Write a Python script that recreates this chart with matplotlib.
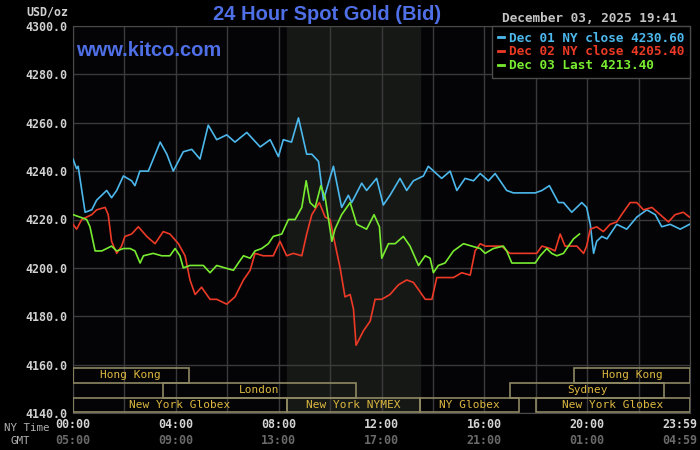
import matplotlib
matplotlib.use("Agg")
import matplotlib.pyplot as plt
import matplotlib.transforms as mtransforms
from matplotlib.patches import Rectangle
from matplotlib.lines import Line2D

# NY-time hours and bid prices
dec01_h = [0, 0.14, 0.2, 0.47, 0.73, 0.92, 1.31, 1.5, 1.7, 1.96, 2.28, 2.41, 2.6, 2.93, 3.39, 3.65, 3.9,
           4.29, 4.62, 4.94, 5.26, 5.59, 5.98, 6.3, 6.76, 7.28, 7.67, 7.99, 8.18, 8.5, 8.77, 9.09, 9.29,
           9.55, 9.74, 10.13, 10.45, 10.71, 10.84, 11.23, 11.42, 11.81, 12.07, 12.33, 12.72, 12.98, 13.24,
           13.63, 13.82, 14.34, 14.67, 14.93, 15.25, 15.58, 15.84, 16.16, 16.42, 16.87, 17.13, 17.98, 18.24,
           18.53, 18.88, 19.08, 19.4, 19.79, 19.98, 20.12, 20.25, 20.37, 20.57, 20.77, 21.15, 21.54, 21.93,
           22.32, 22.65, 22.9, 23.23, 23.62, 23.98]
dec01_v = [4245, 4241, 4242, 4223, 4224, 4228, 4232, 4229, 4232, 4238, 4236, 4234, 4240, 4240, 4252, 4247, 4240,
           4248, 4249, 4245, 4259, 4253, 4255, 4252, 4256, 4250, 4253, 4246, 4253, 4252, 4262, 4247, 4247,
           4244, 4228, 4242, 4225, 4230, 4227, 4235, 4232, 4237, 4226, 4230, 4237, 4232, 4236,
           4238, 4242, 4237, 4240, 4232, 4237, 4236, 4239, 4236, 4239, 4232, 4231, 4231, 4232,
           4234, 4227, 4227, 4223, 4227, 4225, 4218, 4206, 4211, 4213, 4212, 4218, 4216, 4221,
           4224, 4222, 4217, 4218, 4216, 4218]

dec02_h = [0, 0.14, 0.34, 0.53, 0.73, 0.92, 1.25, 1.37, 1.5, 1.7, 1.89, 2.02, 2.28, 2.54, 2.87, 3.19, 3.51,
           3.77, 4.1, 4.36, 4.55, 4.75, 5.0, 5.33, 5.59, 5.98, 6.3, 6.63, 6.89, 7.08, 7.4, 7.79, 8.05, 8.31,
           8.57, 8.9, 9.09, 9.29, 9.58, 9.81, 10.0, 10.19, 10.39, 10.58, 10.78, 10.91, 11.01, 11.3, 11.56,
           11.75, 12.01, 12.33, 12.66, 12.98, 13.24, 13.44, 13.7, 13.96, 14.15, 14.54, 14.8, 15.12, 15.45,
           15.64, 15.84, 16.03, 16.35, 16.68, 16.87, 17.0, 18.04, 18.24, 18.56, 18.75, 18.95, 19.14, 19.6,
           19.86, 19.98, 20.12, 20.37, 20.63, 20.89, 21.15, 21.34, 21.67, 21.93, 22.19, 22.52, 22.84, 23.16,
           23.42, 23.74, 23.98]
dec02_v = [4218, 4216, 4220, 4221, 4222, 4224, 4225, 4222, 4211, 4206, 4209, 4213, 4214, 4217, 4213, 4210, 4215,
           4214, 4210, 4205, 4195, 4189, 4192, 4187, 4187, 4185, 4188, 4195, 4199, 4206, 4205, 4205, 4211, 4205,
           4206, 4205, 4214, 4222, 4227, 4221, 4220, 4210, 4200, 4188, 4189, 4183, 4168, 4174, 4178,
           4187, 4187, 4189, 4193, 4195, 4194, 4191, 4187, 4187, 4196, 4196, 4196, 4198, 4197,
           4207, 4210, 4209, 4209, 4209, 4207, 4206, 4206, 4209, 4208, 4207, 4214, 4209, 4209,
           4206, 4209, 4216, 4217, 4215, 4218, 4219, 4222, 4227, 4227, 4224, 4225, 4222, 4219,
           4222, 4223, 4221]

dec03_h = [0, 0.27, 0.53, 0.66, 0.86, 1.12, 1.31, 1.5, 1.7, 1.96, 2.22, 2.41, 2.61, 2.74, 3.12, 3.45, 3.77,
           3.97, 4.16, 4.29, 4.55, 5.07, 5.33, 5.59, 5.91, 6.24, 6.43, 6.63, 6.89, 7.08, 7.34, 7.6, 7.79,
           8.12, 8.38, 8.64, 8.9, 9.07, 9.22, 9.42, 9.64, 9.81, 10.07, 10.19, 10.45, 10.78, 11.04, 11.42,
           11.71, 11.92, 12.01, 12.27, 12.53, 12.85, 13.11, 13.44, 13.7, 13.89, 14.02, 14.21, 14.47, 14.8,
           15.19, 15.51, 15.84, 16.03, 16.35, 16.74, 16.87, 17.07, 17.98, 18.17, 18.43, 18.62, 18.82, 19.08,
           19.27, 19.47, 19.7]
dec03_v = [4222, 4221, 4220, 4217, 4207, 4207, 4208, 4209, 4207, 4208, 4208, 4207, 4202, 4205, 4206, 4205, 4205,
           4208, 4205, 4200, 4201, 4201, 4198, 4201, 4200, 4199, 4202, 4205, 4204, 4207, 4208, 4210, 4213,
           4214, 4220, 4220, 4225, 4236, 4227, 4225, 4234, 4229, 4211, 4216, 4222, 4227, 4218, 4216,
           4222, 4217, 4204, 4210, 4210, 4213, 4209, 4201, 4205, 4204, 4198, 4201, 4202, 4207,
           4210, 4209, 4208, 4206, 4208, 4209, 4207, 4202, 4202, 4205, 4208, 4206, 4205, 4206,
           4209, 4212, 4214]

legend_labels = ["Dec 01 NY close 4230.60", "Dec 02 NY close 4205.40", "Dec 03 Last 4213.40"]
line_colors = ["#4cb8ec", "#ec3a26", "#78ec30"]

tick_hours = [0, 4, 8, 12, 16, 20, 24]
ny_labels = ["00:00", "04:00", "08:00", "12:00", "16:00", "20:00", "23:59"]
gmt_labels = ["05:00", "09:00", "13:00", "17:00", "21:00", "01:00", "04:59"]

# trading sessions: name, start hour, end hour, row (0 = top)
sess_names = ["Hong Kong", "Hong Kong", "London", "Sydney", "New York Globex", "New York NYMEX",
              "NY Globex", "New York Globex"]
sess_start = [0, 19.5, 3.5, 17.0, 0, 8.33, 13.5, 18.0]
sess_end = [4.5, 24, 11.0, 23.0, 8.33, 13.5, 17.35, 24]
sess_row = [0, 0, 1, 1, 2, 2, 2, 2]

nymex_open, nymex_close = 8.33, 13.5

mono = "DejaVu Sans Mono"
fig = plt.figure(figsize=(7, 4.5), dpi=100, facecolor="black")
ax = fig.add_axes([73 / 700, 37 / 450, 617 / 700, 387 / 450], facecolor="#040406")

ax.axvspan(nymex_open, nymex_close, color="#161816", zorder=0)

for h, v, c in zip([dec01_h, dec02_h, dec03_h], [dec01_v, dec02_v, dec03_v], line_colors):
    ax.plot(h, v, color=c, lw=1.2, zorder=3)

ax.set_xlim(0, 24)
ax.set_ylim(4140, 4300)
ax.set_xticks(range(0, 25, 2))
ax.set_yticks(range(4140, 4301, 20))
ax.grid(True, color="#3a3a3a", lw=1)
ax.tick_params(length=0, labelbottom=False)
ax.set_yticklabels(["%.1f" % t for t in range(4140, 4301, 20)],
                   fontfamily=mono, fontweight="bold", fontsize=8.4, color="#d0d0d0")
ax.tick_params(axis="y", pad=4)
for s in ax.spines.values():
    s.set_color("#4a4a4a")

# session boxes
row_h = 6.1
for name, a, b, r in zip(sess_names, sess_start, sess_end, sess_row):
    y0 = 4140.3 + (2 - r) * row_h
    ax.add_patch(Rectangle((a, y0), b - a, row_h, fill=False, ec="#8e8862", lw=1.2, zorder=4))
    ax.text((a + b) / 2, y0 + row_h / 2, name, ha="center", va="center", fontfamily=mono,
            fontsize=8, color="#dcb840", zorder=5)

# x labels: NY time and GMT
tr = mtransforms.blended_transform_factory(ax.transData, fig.transFigure)
tr_last = mtransforms.offset_copy(tr, fig=fig, x=7, y=0, units="dots")
for i, (h, ny, gm) in enumerate(zip(tick_hours, ny_labels, gmt_labels)):
    last = i == len(tick_hours) - 1
    ha = "right" if last else "center"
    t = tr_last if last else tr
    ax.text(h, 1 - 424.5 / 450, ny, transform=t, ha=ha, va="center", fontfamily=mono,
            fontweight="bold", fontsize=8.4, color="#d4d4d4", clip_on=False)
    ax.text(h, 1 - 440 / 450, gm, transform=t, ha=ha, va="center", fontfamily=mono,
            fontweight="bold", fontsize=8.4, color="#6a6a6a", clip_on=False)
fig.text(49 / 700, 1 - 428 / 450, "NY Time", ha="right", va="center", fontfamily=mono,
         fontsize=7.8, color="#b0b0b0")
fig.text(30 / 700, 1 - 441 / 450, "GMT", ha="right", va="center", fontfamily=mono,
         fontsize=7.8, color="#b0b0b0")

fig.text(68 / 700, 1 - 12 / 450, "USD/oz", ha="right", va="center", fontfamily=mono,
         fontweight="bold", fontsize=8.4, color="#d0d0d0")
fig.text(327 / 700, 1 - 15 / 450, "24 Hour Spot Gold (Bid)", ha="center", va="center",
         fontfamily="Liberation Sans", fontweight="bold", fontsize=14.5, color="#4f6fe6")
fig.text(76 / 700, 1 - 51 / 450, "www.kitco.com", ha="left", va="center",
         fontfamily="Liberation Sans", fontweight="bold", fontsize=14.5, color="#4f6fe6")
fig.text(677 / 700, 1 - 18 / 450, "December 03, 2025 19:41", ha="right", va="center",
         fontfamily=mono, fontweight="bold", fontsize=9.2, color="#c4c4c4")

handles = [Line2D([], [], color=c, lw=2) for c in line_colors]
leg = ax.legend(handles, legend_labels, loc="upper right", bbox_to_anchor=(1, 1), borderaxespad=0,
                handlelength=0.45, handletextpad=0.4, labelspacing=0.05, borderpad=0.45,
                fancybox=False, facecolor="black", edgecolor="#4a4a4a", framealpha=1,
                labelcolor=line_colors, prop={"family": mono, "weight": "bold", "size": 9.2})
leg.set_zorder(6)

fig.savefig("out.png", dpi=100, facecolor="black")
